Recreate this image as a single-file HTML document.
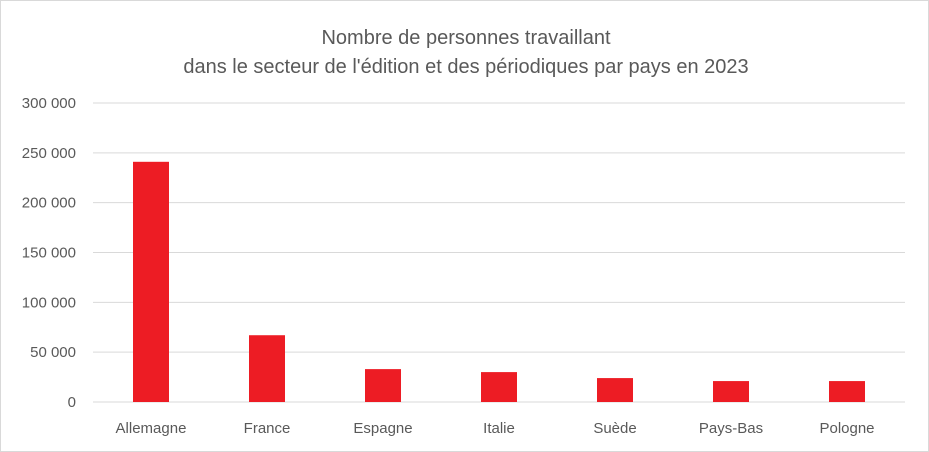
<!DOCTYPE html>
<html><head><meta charset="utf-8"><style>
body{margin:0;background:#fff;}
svg{display:block;font-family:"Liberation Sans",Calibri,sans-serif;}
</style></head><body>
<svg id="chart" width="929" height="452" viewBox="0 0 929 452">
<rect x="0.5" y="0.5" width="928" height="451" fill="#fff" stroke="#d9d9d9"/>
<text x="466" y="44" text-anchor="middle" font-size="20" fill="#595959">Nombre de personnes travaillant</text>
<text x="466" y="73" text-anchor="middle" font-size="20" fill="#595959">dans le secteur de l'édition et des périodiques par pays en 2023</text>
<g id="grid"></g><g id="bars"></g><g id="labels"></g>
</svg>
<script>
const categories=["Allemagne","France","Espagne","Italie","Suède","Pays-Bas","Pologne"];
const values=[241000,67000,33000,30000,24000,21000,21000];
const ticks=[0,50000,100000,150000,200000,250000,300000];
const tickLabels=["0","50 000","100 000","150 000","200 000","250 000","300 000"];
const NS="http://www.w3.org/2000/svg";
const x0=93,x1=905,y0=402,y1=103,yMax=300000;
const band=(x1-x0)/categories.length,bw=36;
const y=v=>y0-(v/yMax)*(y0-y1);
const xc=i=>x0+band*(i+0.5);
function mk(t,a){const e=document.createElementNS(NS,t);for(const k in a)e.setAttribute(k,a[k]);return e;}
const g=document.getElementById('grid'),b=document.getElementById('bars'),l=document.getElementById('labels');
ticks.forEach((t,i)=>{
 const ln=mk('line',{x1:x0,x2:x1,y1:y(t),y2:y(t),stroke:'#d9d9d9','stroke-width':1});
 
 
 g.appendChild(ln);
 const tx=mk('text',{x:76,y:y(t)+5,'text-anchor':'end','font-size':15,fill:'#595959'});
 tx.textContent=tickLabels[i];
 
 
 l.appendChild(tx);
});
categories.forEach((c,i)=>{
 const r=mk('rect',{x:xc(i)-bw/2,y:y(values[i]),width:bw,height:y0-y(values[i]),fill:'#ed1c24'});
 
 
 b.appendChild(r);
 const tx=mk('text',{x:xc(i),y:433,'text-anchor':'middle','font-size':15,fill:'#595959'});
 tx.textContent=c;
 
 
 l.appendChild(tx);
});
</script>
</body></html>
